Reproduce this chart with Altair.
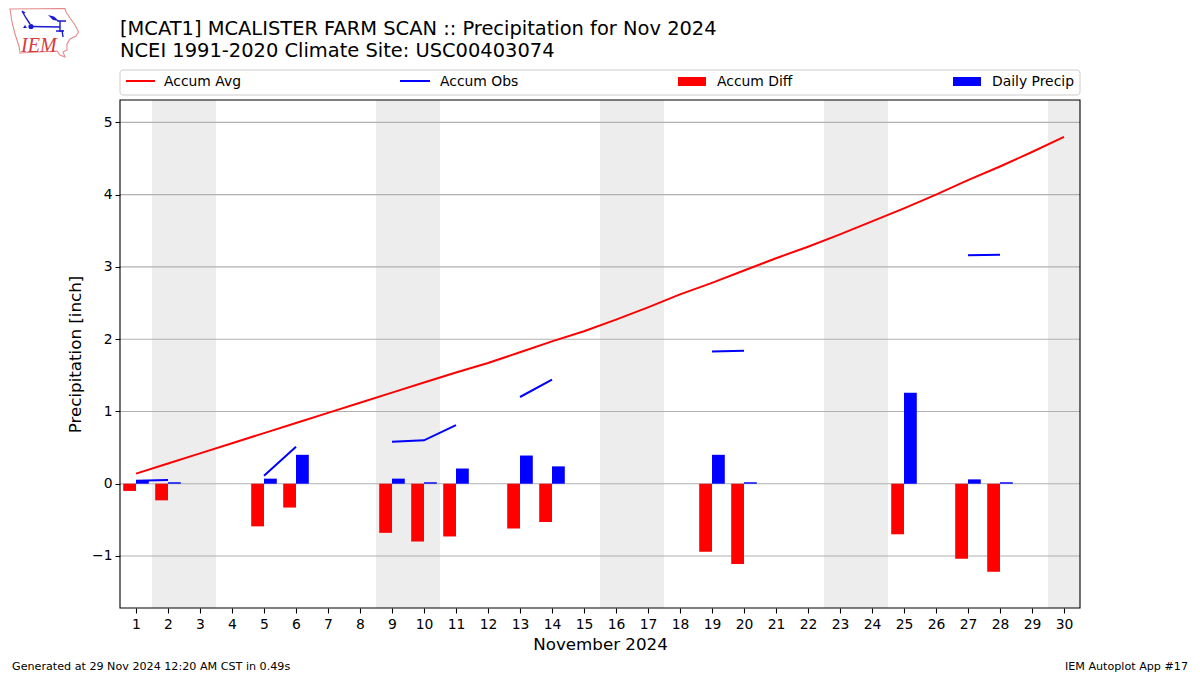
import base64
import altair as alt
import pandas as pd

FONT = "DejaVu Sans"
days = list(range(1, 31))
accum_avg = [0.14, 0.28, 0.42, 0.56, 0.70, 0.84, 0.98, 1.12, 1.26, 1.40, 1.54, 1.67, 1.82, 1.97, 2.11,
             2.27, 2.44, 2.62, 2.78, 2.95, 3.12, 3.28, 3.45, 3.63, 3.81, 4.00, 4.20, 4.39, 4.59, 4.80]
accum_obs = [0.04, 0.05, None, None, 0.11, 0.51, None, None, 0.58, 0.60, 0.81, None, 1.20, 1.44, None,
             None, None, None, 1.83, 1.84, None, None, None, None, None, None, 3.16, 3.17, None, None]
bar_days = [1, 2, 5, 6, 9, 10, 11, 13, 14, 19, 20, 25, 27, 28]
accum_diff = [-0.10, -0.23, -0.59, -0.33, -0.68, -0.80, -0.73, -0.62, -0.53, -0.94, -1.11, -0.70, -1.04, -1.22]
daily_precip = [0.04, 0.02, 0.07, 0.40, 0.07, 0.02, 0.21, 0.39, 0.24, 0.40, 0.02, 1.26, 0.06, 0.02]
weekend_start = [1.5, 8.5, 15.5, 22.5, 29.5]
weekend_end = [3.5, 10.5, 17.5, 24.5, 30.5]
y_ticks = [-1, 0, 1, 2, 3, 4, 5]
title_1 = "[MCAT1] MCALISTER FARM SCAN :: Precipitation for Nov 2024"
title_2 = "NCEI 1991-2020 Climate Site: USC00403074"
footer_l = "Generated at 29 Nov 2024 12:20 AM CST in 0.49s"
footer_r = "IEM Autoplot App #17"

xs = alt.Scale(domain=[0.5, 30.5], nice=False, zero=False)
ys = alt.Scale(domain=[-1.72, 5.31], nice=False, zero=False)
one = pd.DataFrame({"a": [0]})
lines = pd.DataFrame({"day": days, "avg": accum_avg, "obs": accum_obs})
bars = pd.DataFrame({"day": bar_days, "diff": accum_diff, "daily": daily_precip})
bands = pd.DataFrame({"s": weekend_start, "e": weekend_end})
grid = pd.DataFrame({"v": y_ticks})

x_axis = alt.Axis(
    title="November 2024", values=days, format="d", labelAngle=0, labelOverlap=False,
    labelFont=FONT, labelFontSize=13.9, labelColor="black", labelPadding=4,
    titleFont=FONT, titleFontSize=16.7, titleFontWeight="normal", titleColor="black", titlePadding=6,
    tickColor="black", tickSize=5, tickWidth=1.1, domain=False, grid=False)
y_axis = alt.Axis(
    title="Precipitation [inch]", values=y_ticks, format="d",
    labelFont=FONT, labelFontSize=13.9, labelColor="black", labelPadding=3,
    titleFont=FONT, titleFontSize=16.7, titleFontWeight="normal", titleColor="black", titlePadding=7,
    tickColor="black", tickSize=5, tickWidth=1.1, domain=False, grid=False)

band_l = alt.Chart(bands).mark_rect(color="#ededed").encode(
    x=alt.X("s:Q", scale=xs, axis=x_axis), x2="e:Q")
grid_l = alt.Chart(grid).mark_rule(color="#b0b0b0", strokeWidth=1.1).encode(
    y=alt.Y("v:Q", scale=ys, axis=y_axis))
diff_l = alt.Chart(bars).transform_calculate(l="datum.day-0.4").mark_rect(color="#ff0000").encode(
    x=alt.X("l:Q", scale=xs, axis=x_axis), x2="day:Q",
    y=alt.Y("diff:Q", scale=ys, axis=y_axis), y2=alt.datum(0))
daily_l = alt.Chart(bars).transform_calculate(r="datum.day+0.4").mark_rect(color="#0000ff").encode(
    x=alt.X("day:Q", scale=xs, axis=x_axis), x2="r:Q",
    y=alt.Y("daily:Q", scale=ys, axis=y_axis), y2=alt.datum(0))
avg_l = alt.Chart(lines).mark_line(color="#ff0000", strokeWidth=2).encode(
    x=alt.X("day:Q", scale=xs, axis=x_axis), y=alt.Y("avg:Q", scale=ys, axis=y_axis))
obs_l = alt.Chart(lines).mark_line(color="#0000ff", strokeWidth=2).encode(
    x=alt.X("day:Q", scale=xs, axis=x_axis), y=alt.Y("obs:Q", scale=ys, axis=y_axis))


def txt(s, x, y, size, align="left", color="black", font=FONT, **kw):
    return alt.Chart(one).mark_text(text=s, align=align, baseline="alphabetic", fontSize=size,
                                    font=font, color=color, **kw).encode(x=alt.value(x), y=alt.value(y))


def box(x, x2, y, y2, **kw):
    return alt.Chart(one).mark_rect(**kw).encode(
        x=alt.value(x), x2=alt.value(x2), y=alt.value(y), y2=alt.value(y2))


def rule(x, x2, y, color):
    return alt.Chart(one).mark_rule(color=color, strokeWidth=2).encode(
        x=alt.value(x), x2=alt.value(x2), y=alt.value(y))


frame = box(0, 960, 0, 508, fillOpacity=0, fill="white", stroke="black", strokeWidth=1.1)

legend = [
    box(0, 960, -30, -5, fill="white", stroke="#cccccc", strokeWidth=1, cornerRadius=3),
    rule(6, 35, -19, "#ff0000"), txt("Accum Avg", 44, -14, 13.9),
    rule(280, 310, -19, "#0000ff"), txt("Accum Obs", 320, -14, 13.9),
    box(558, 586, -23, -14, fill="#ff0000"), txt("Accum Diff", 597, -14, 13.9),
    box(833, 861, -23, -14, fill="#0000ff"), txt("Daily Precip", 872, -14, 13.9),
]

logo_svg = """<svg xmlns='http://www.w3.org/2000/svg' width='72' height='52' viewBox='8 6 72 52'>
<path d='M10 9 L65 8.5 L66 12 L70 18 L75 25 L78.5 32 L76 36 L70 39 L67 44 L67 50 L63 52 L65 57 L60 55 L57 51 L20 53 L19 46 L15 34 L12 22 Z' fill='none' stroke='#e58a8a' stroke-width='1.1'/>
<g stroke='#1a1ad0' fill='none' stroke-width='1.4'>
<path d='M31 26.5 L60 27 M57 21 L66 21 M60 21 L60 32 M62 30 L63 37 M22 11 L26 18 L30 24 M22 11 L25 13 M56 31 L64 31'/>
</g>
<circle cx='31' cy='26.5' r='2.6' fill='#1a1ad0'/>
<path d='M48 15 L54 16.5 L59 21 L53 20 Z' fill='#1a1ad0'/>
<path d='M23 28 L25 25 L27 28 Z' fill='#1a1ad0'/>
</svg>"""
logo_url = "data:image/svg+xml;base64," + base64.b64encode(logo_svg.encode()).decode()
logo = alt.Chart(one).mark_image(url=logo_url, width=72, height=52, align="left", baseline="top", aspect=False).encode(
    x=alt.value(-112), y=alt.value(-94))

texts = [
    txt(title_1, 0, -65, 19.45),
    txt(title_2, 0, -43, 19.45),
    txt(footer_l, -108, 570, 11.15),
    txt(footer_r, 1068, 570, 11.15, align="right"),
    txt("IEM", -99, -48, 20, color="#d93a3a", font="Liberation Serif", fontStyle="italic"),
]

chart = alt.layer(band_l, grid_l, diff_l, daily_l, avg_l, obs_l, frame, *legend, logo, *texts).properties(
    width=960, height=508,
    autosize=alt.AutoSizeParams(type="none"),
    padding={"left": 112, "top": 92, "right": 112, "bottom": 64},
    background="white",
).configure_view(stroke=None)

chart.save("out.html", embed_options={"renderer": "svg", "actions": False})
